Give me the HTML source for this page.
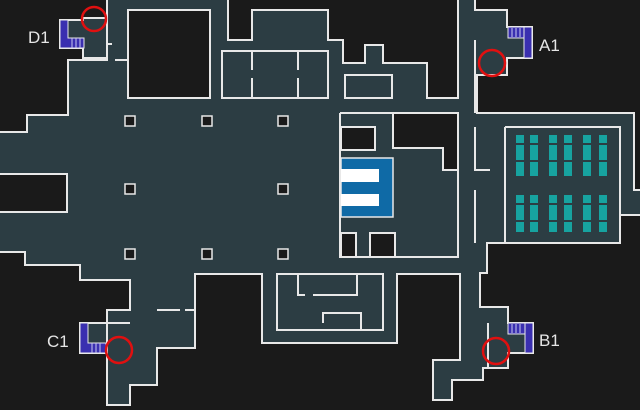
<!DOCTYPE html>
<html><head><meta charset="utf-8"><style>
html,body{margin:0;padding:0;background:#1a1a1a;width:640px;height:410px;overflow:hidden}
svg{display:block}
text{font-family:"Liberation Sans",sans-serif;font-size:17px;fill:#e6e6e6}
</style></head><body>
<svg width="640" height="410" viewBox="0 0 640 410">
<rect width="640" height="410" fill="#1a1a1a"/>
<polygon fill="#2c3d43" stroke="#e8e8e8" stroke-width="2" points="107,-2 228,-2 228,40 252,40 252,10 328,10 328,40 343,40 343,63 365,63 365,45 383,45 383,63 427,63 427,98 458,98 458,-2 475,-2 475,10 507,10 507,27 532,27 532,58 507,58 507,75 477,75 477,113 634,113 634,190 642,190 642,215 620,215 620,243 487,243 487,273 480,273 480,307 508,307 508,323 533,323 533,353 508,353 508,368 483,368 483,380 452,380 452,400 433,400 433,360 460,360 460,274 397,274 397,343 262,343 262,274 195,274 195,348 157,348 157,385 130,385 130,405 107,405 107,353 80,353 80,323 107,323 107,310 130,310 130,280 80,280 80,265 25,265 25,252 -2,252 -2,212 67,212 67,174 -2,174 -2,132 27,132 27,115 68,115 68,60 107,60 107,58 83,58 83,48 60,48 60,20 83,20 83,18 107,18"/>
<!-- stairs (L-shaped) -->
<g fill="#3a2fb0" stroke="#e8e8e8" stroke-width="1">
<polygon points="60,20 68,20 68,38 84,38 84,48 60,48"/>
<polygon points="532,27 524,27 524,58 532,58"/>
<rect x="508" y="27" width="16" height="11"/>
<polygon points="80,323 88,323 88,343 106,343 106,353 80,353"/>
<rect x="525" y="323" width="8" height="30"/>
<rect x="508" y="323" width="17" height="11"/>
</g>
<g stroke="#c8c8f0" stroke-width="1">
<path d="M72,38V48 M76,38V48 M80,38V48"/>
<path d="M512,28V37 M516,28V37 M520,28V37"/>
<path d="M92,343V353 M96,343V353 M100,343V353"/>
<path d="M512,324V333 M516,324V333 M520,324V333"/>
</g>
<!-- black rooms -->
<g fill="#1a1a1a" stroke="#e8e8e8" stroke-width="2">
<rect x="128" y="10" width="82" height="88"/>
<rect x="341" y="127" width="34" height="23"/>
<polygon points="393,113 458,113 458,170 443,170 443,148 393,148"/>
<rect x="341" y="233" width="15" height="24"/>
<rect x="370" y="233" width="25" height="24"/>
</g>
<!-- blue -->
<rect x="341" y="158" width="52" height="59" fill="#0f6aa6" stroke="#e8e8e8" stroke-width="1.5"/>
<rect x="341" y="169" width="38" height="13" fill="#fff"/>
<rect x="341" y="194" width="38" height="12" fill="#fff"/>
<!-- walls -->
<g fill="none" stroke="#e8e8e8" stroke-width="2">
<rect x="222" y="51" width="106" height="47"/>
<path d="M252,51V70 M252,78V98 M298,51V70 M298,78V98"/>
<rect x="345" y="75" width="47" height="23"/>
<path d="M340,113V257 H458 V113 M340,113H393"/>
<path d="M475,40V113 M475,127V170 H490 M475,190V243"/>
<path d="M505,127H620V243 M505,127V243 M620,127V215"/>
<rect x="277" y="274" width="106" height="56"/>
<path d="M298,274V295 H305 M313,295H357V274 M323,323V313H361V330"/>
<path d="M488,323V368 M107,310V395 M130,323H107"/>
<path d="M157,310H180 M185,310H195 M107,60V18 M107,44H112"/>
<path d="M210,40V98 M128,60H115"/>
</g>
<!-- desks -->
<g fill="#17a3a0">
<rect x="516" y="135" width="8" height="8"/><rect x="516" y="145" width="8" height="15"/><rect x="516" y="162" width="8" height="14"/>
<rect x="530" y="135" width="8" height="8"/><rect x="530" y="145" width="8" height="15"/><rect x="530" y="162" width="8" height="14"/>
<rect x="549" y="135" width="8" height="8"/><rect x="549" y="145" width="8" height="15"/><rect x="549" y="162" width="8" height="14"/>
<rect x="564" y="135" width="8" height="8"/><rect x="564" y="145" width="8" height="15"/><rect x="564" y="162" width="8" height="14"/>
<rect x="583" y="135" width="8" height="8"/><rect x="583" y="145" width="8" height="15"/><rect x="583" y="162" width="8" height="14"/>
<rect x="599" y="135" width="8" height="8"/><rect x="599" y="145" width="8" height="15"/><rect x="599" y="162" width="8" height="14"/>
<rect x="516" y="195" width="8" height="8"/><rect x="516" y="205" width="8" height="15"/><rect x="516" y="222" width="8" height="10"/>
<rect x="530" y="195" width="8" height="8"/><rect x="530" y="205" width="8" height="15"/><rect x="530" y="222" width="8" height="10"/>
<rect x="549" y="195" width="8" height="8"/><rect x="549" y="205" width="8" height="15"/><rect x="549" y="222" width="8" height="10"/>
<rect x="564" y="195" width="8" height="8"/><rect x="564" y="205" width="8" height="15"/><rect x="564" y="222" width="8" height="10"/>
<rect x="583" y="195" width="8" height="8"/><rect x="583" y="205" width="8" height="15"/><rect x="583" y="222" width="8" height="10"/>
<rect x="599" y="195" width="8" height="8"/><rect x="599" y="205" width="8" height="15"/><rect x="599" y="222" width="8" height="10"/>
</g>
<!-- pillars -->
<g fill="#1a1a1a" stroke="#e8e8e8" stroke-width="1.5">
<rect x="125" y="116" width="10" height="10"/><rect x="202" y="116" width="10" height="10"/><rect x="278" y="116" width="10" height="10"/>
<rect x="125" y="184" width="10" height="10"/><rect x="278" y="184" width="10" height="10"/>
<rect x="125" y="249" width="10" height="10"/><rect x="202" y="249" width="10" height="10"/><rect x="278" y="249" width="10" height="10"/>
</g>
<!-- circles -->
<g fill="none" stroke="#e01010" stroke-width="2.5">
<circle cx="94" cy="19" r="12"/>
<circle cx="492" cy="63" r="13"/>
<circle cx="119" cy="350" r="13"/>
<circle cx="496" cy="351" r="13"/>
</g>
<text x="28" y="43">D1</text>
<text x="539" y="51">A1</text>
<text x="47" y="347">C1</text>
<text x="539" y="346">B1</text>
</svg>
</body></html>
